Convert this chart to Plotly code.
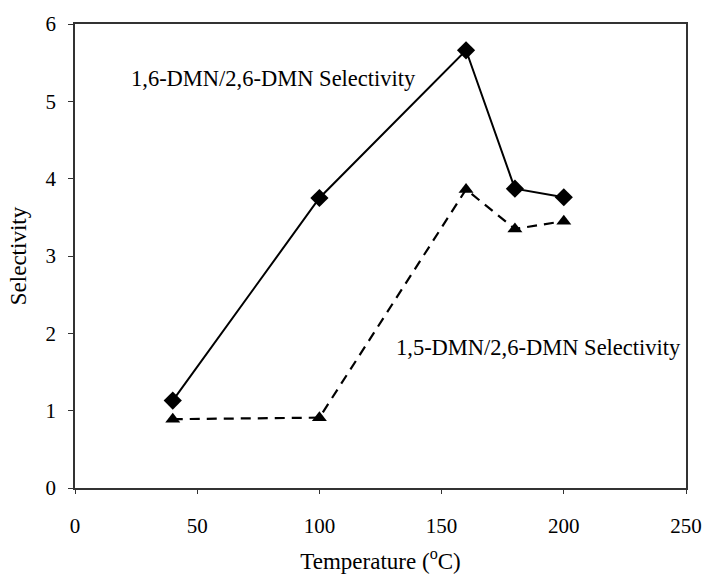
import plotly.graph_objects as go

temperature = [40, 100, 160, 180, 200]
sel_16 = [1.13, 3.75, 5.66, 3.87, 3.76]
sel_15 = [0.89, 0.91, 3.86, 3.35, 3.45]

label_16 = "1,6-DMN/2,6-DMN Selectivity"
label_15 = "1,5-DMN/2,6-DMN Selectivity"
x_ticks = [0, 50, 100, 150, 200, 250]
y_ticks = [0, 1, 2, 3, 4, 5, 6]

font_family = "Liberation Serif, Times New Roman, serif"

fig = go.Figure()
fig.add_trace(go.Scatter(
    x=temperature, y=sel_16, mode="lines+markers", name=label_16,
    line=dict(color="black", width=2),
    marker=dict(symbol="diamond", size=14, color="black"),
))
fig.add_trace(go.Scatter(
    x=temperature, y=sel_15, mode="lines+markers", name=label_15,
    line=dict(color="black", width=2.2, dash="10px,7px"),
    marker=dict(symbol="triangle-up", size=13, color="black"),
))

fig.add_annotation(x=22, y=5.3, xref="x", yref="y", text=label_16,
                   showarrow=False, xanchor="left", yanchor="middle",
                   font=dict(family=font_family, size=22.5, color="black"))
fig.add_annotation(x=130.5, y=1.82, xref="x", yref="y", text=label_15,
                   showarrow=False, xanchor="left", yanchor="middle",
                   font=dict(family=font_family, size=22.5, color="black"))

fig.update_layout(
    width=714, height=582,
    margin=dict(l=75, r=24, t=24, b=94),
    paper_bgcolor="white", plot_bgcolor="white",
    showlegend=False,
    font=dict(family=font_family, size=21, color="black"),
    xaxis=dict(
        range=[0, 250], tickvals=x_ticks, showgrid=False, zeroline=False,
        showline=True, linecolor="#333", linewidth=1.5, mirror=True,
        ticks="outside", ticklen=4, tickcolor="#333",
        ticklabelstandoff=14,
        tickfont=dict(family=font_family, size=21),
        title=dict(text="Temperature (<sup>o</sup>C)", standoff=16,
                   font=dict(family=font_family, size=23)),
    ),
    yaxis=dict(
        range=[0, 6], tickvals=y_ticks, showgrid=False, zeroline=False,
        showline=True, linecolor="#333", linewidth=1.5, mirror=True,
        ticks="outside", ticklen=5, tickcolor="#333",
        ticklabelstandoff=8,
        tickfont=dict(family=font_family, size=21),
        title=dict(text="Selectivity", standoff=12,
                   font=dict(family=font_family, size=23)),
    ),
)

fig.write_html("out.html")
